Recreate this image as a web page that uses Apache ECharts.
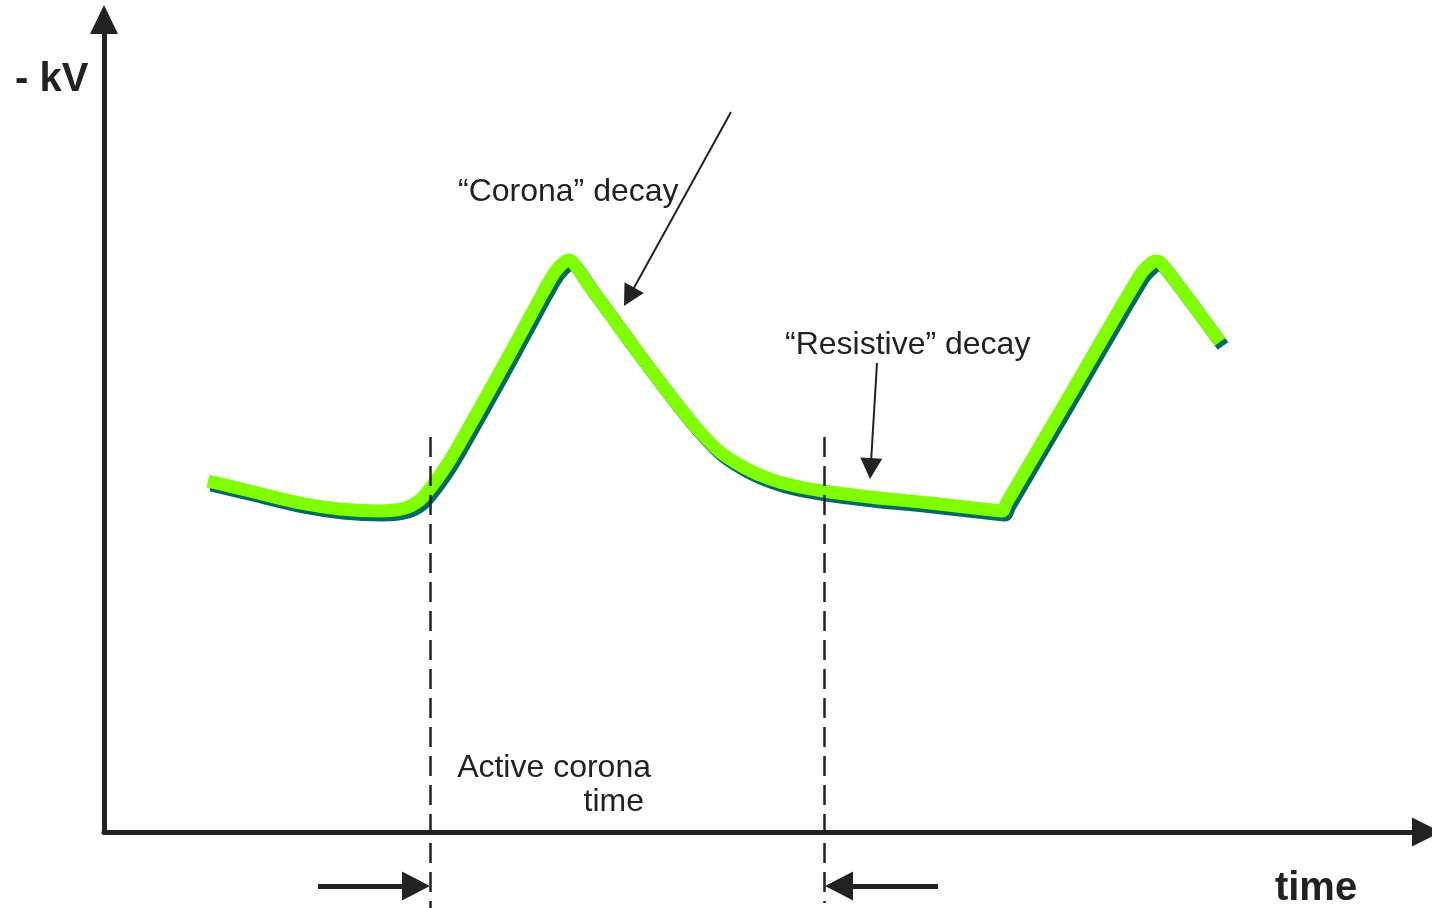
<!DOCTYPE html>
<html lang="en">
<head>
    <meta charset="UTF-8">
    <title>Corona decay</title>
    <script src="https://cdn.jsdelivr.net/npm/echarts@6/dist/echarts.min.js"></script>
    <style>
        html, body { margin: 0; padding: 0; background: #fff; }
    </style>
</head>
<body>
    <div id="main" style="width: 1432px; height: 908px;"></div>
    <script>
        // waveform (time, -kV), arbitrary units
        var timePts = [104, 146, 196, 236, 276, 301, 316, 328, 346, 369, 393, 416, 436, 449, 456, 462, 466, 471,
                       486, 503, 526, 553, 576, 596, 616, 641, 666, 691, 719, 766, 826, 888, 898, 903,
                       967, 1036, 1046, 1052, 1058, 1116];
        var kvPts   = [351, 341, 329, 323, 321, 324, 332, 346, 372, 412, 455, 497, 534, 557, 566, 571, 572, 567,
                       545, 522, 490, 454, 424, 400, 380, 364, 353, 346, 341, 335, 329, 322, 321, 330,
                       439, 557, 568, 571, 568, 490];

        // active corona time window
        var coronaStart = 326;
        var coronaEnd = 720;
        var dashTop = 395;

        // annotation arrows: [fromTime, fromKv, tipTime, tipKv]
        var coronaArrow = [627, 720, 520, 526];
        var resistiveArrow = [773, 469, 766, 353];
        var bracketY = -54;
        var bracketLeft = [214, coronaStart];
        var bracketRight = [834, coronaEnd + 1];

        function arrowLine(a, headLen) {
            // stop the line at the head's centre so the triangle tip lands on the tip point
            var dx = a[2] - a[0], dy = a[3] - a[1];
            var len = Math.sqrt(dx * dx + dy * dy);
            var k = (len - headLen / 2) / len;
            return [{coord: [a[0], a[1]]}, {coord: [a[0] + dx * k, a[1] + dy * k]}];
        }

        var curve = timePts.map(function (t, i) { return [t, kvPts[i]]; });

        var myChart = echarts.init(document.getElementById('main'));

        var option = {
            animation: false,
            grid: [
                {left: 104, right: 5.5, top: 19.5, bottom: 76},
                {left: 104, right: 5.5, top: 19.5, bottom: 0}
            ],
            xAxis: [
                {
                    type: 'value', gridIndex: 0, min: 0, max: 1322.5,
                    axisLine: {
                        lineStyle: {color: '#222', width: 5},
                        symbol: ['none', 'triangle'],
                        symbolSize: [29, 29]
                    },
                    axisTick: {show: false},
                    axisLabel: {show: false},
                    splitLine: {show: false}
                },
                {type: 'value', gridIndex: 1, min: 0, max: 1322.5, show: false}
            ],
            yAxis: [
                {
                    type: 'value', gridIndex: 0, min: 0, max: 812.5,
                    axisLine: {
                        show: true,
                        lineStyle: {color: '#222', width: 5},
                        symbol: ['none', 'triangle'],
                        symbolSize: [28, 29]
                    },
                    axisTick: {show: false},
                    axisLabel: {show: false},
                    splitLine: {show: false}
                },
                {type: 'value', gridIndex: 1, min: -76, max: 812.5, show: false}
            ],
            series: [
                {
                    name: 'dashes',
                    type: 'line',
                    xAxisIndex: 1,
                    yAxisIndex: 1,
                    data: [],
                    markLine: {
                        silent: true,
                        symbol: ['none', 'none'],
                        label: {show: false},
                        lineStyle: {color: '#222', width: 2.5, type: [20, 9]},
                        data: [
                            [{coord: [coronaStart, dashTop]}, {coord: [coronaStart, -76]}],
                            [{coord: [coronaEnd, dashTop]}, {coord: [coronaEnd, -71]}]
                        ]
                    }
                },
                {
                    name: 'notes',
                    type: 'line',
                    xAxisIndex: 1,
                    yAxisIndex: 1,
                    data: [],
                    markLine: {
                        silent: true,
                        symbol: ['none', 'triangle'],
                        symbolSize: [22, 21],
                        label: {show: false},
                        lineStyle: {color: '#222', width: 2, type: 'solid'},
                        data: [arrowLine(coronaArrow, 21), arrowLine(resistiveArrow, 21)]
                    }
                },
                {
                    name: 'window',
                    type: 'line',
                    xAxisIndex: 1,
                    yAxisIndex: 1,
                    data: [],
                    markLine: {
                        silent: true,
                        symbol: ['none', 'triangle'],
                        symbolSize: [29, 28],
                        label: {show: false},
                        lineStyle: {color: '#222', width: 5, type: 'solid'},
                        data: [
                            arrowLine([bracketLeft[0], bracketY, bracketLeft[1], bracketY], 28),
                            arrowLine([bracketRight[0], bracketY, bracketRight[1], bracketY], 28)
                        ]
                    }
                },
                {
                    name: 'voltage',
                    type: 'line',
                    xAxisIndex: 0,
                    yAxisIndex: 0,
                    data: curve,
                    showSymbol: false,
                    smooth: 0.3,
                    silent: true,
                    lineStyle: {
                        color: '#7fff00',
                        width: 13,
                        cap: 'butt',
                        join: 'miter',
                        shadowColor: '#006b5e',
                        shadowBlur: 0,
                        shadowOffsetX: 3,
                        shadowOffsetY: 4
                    }
                }
            ],
            graphic: [
                {type: 'text', style: {text: '- kV', x: 15, y: 80, font: 'bold 40px "Liberation Sans"', fill: '#222', align: 'left', verticalAlign: 'middle'}},
                {type: 'text', style: {text: 'time', x: 1316, y: 889, font: 'bold 40px "Liberation Sans"', fill: '#222', align: 'center', verticalAlign: 'middle'}},
                {type: 'text', style: {text: '\u201cCorona\u201d decay', x: 458, y: 192, font: '32px "Liberation Sans"', fill: '#222', align: 'left', verticalAlign: 'middle'}},
                {type: 'text', style: {text: '\u201cResistive\u201d decay', x: 785, y: 345, font: '32px "Liberation Sans"', fill: '#222', align: 'left', verticalAlign: 'middle'}},
                {type: 'text', style: {text: 'Active corona', x: 651, y: 768, font: '32px "Liberation Sans"', fill: '#222', align: 'right', verticalAlign: 'middle'}},
                {type: 'text', style: {text: 'time', x: 644, y: 802, font: '32px "Liberation Sans"', fill: '#222', align: 'right', verticalAlign: 'middle'}}
            ]
        };

        myChart.setOption(option);
    </script>
</body>
</html>
